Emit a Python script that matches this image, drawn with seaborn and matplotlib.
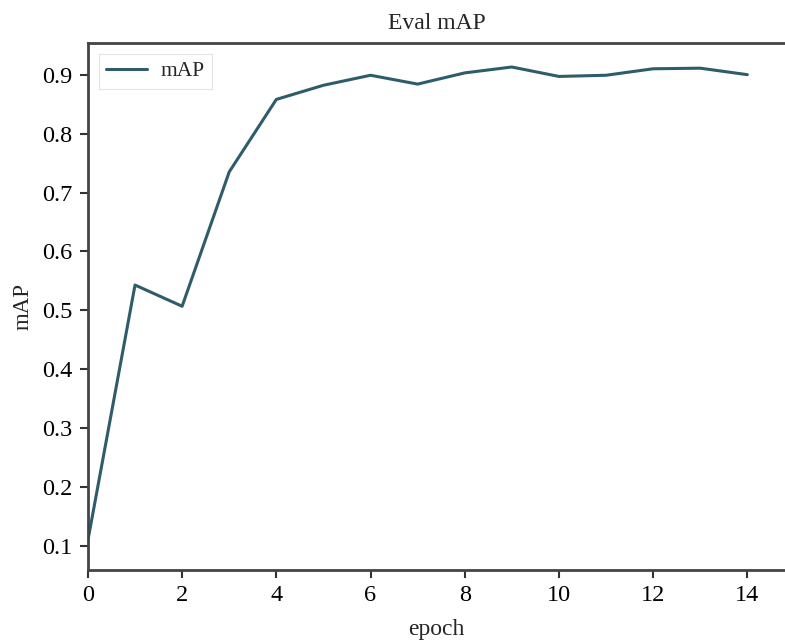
import matplotlib
matplotlib.use("Agg")
import matplotlib.pyplot as plt
import seaborn as sns
import pandas as pd

epochs = list(range(15))
map_values = [0.11, 0.543, 0.507, 0.735, 0.858, 0.882, 0.899, 0.884, 0.903, 0.913,
              0.897, 0.899, 0.910, 0.911, 0.900]
x_ticks = [0, 2, 4, 6, 8, 10, 12, 14]
y_ticks = [0.1, 0.2, 0.3, 0.4, 0.5, 0.6, 0.7, 0.8, 0.9]

sns.set_style("ticks")
plt.rcParams['font.family'] = ['Liberation Serif', 'DejaVu Serif']

df = pd.DataFrame({"epoch": epochs, "mAP": map_values})

fig = plt.figure(figsize=(7.85, 6.43), dpi=100)
ax = fig.add_axes([0.112, 0.1135, 0.888, 0.8195])

sns.lineplot(data=df, x="epoch", y="mAP", ax=ax, color="#2f5c6b", linewidth=2.2, label="mAP")

ax.set_xlim(0, 14.8)
ax.set_ylim(0.0594, 0.9536)
ax.set_xticks(x_ticks)
ax.set_yticks(y_ticks)
ax.set_yticklabels([f"{v:.1f}" for v in y_ticks])
ax.tick_params(labelsize=17.5, length=6, width=1.5, pad=5, colors="#333333", labelcolor="black")
for s in ["left", "bottom", "top"]:
    ax.spines[s].set_color("#444444")
    ax.spines[s].set_linewidth(2)
ax.spines["right"].set_visible(False)

ax.set_title("Eval mAP", fontsize=17, pad=10)
ax.set_xlabel("epoch", fontsize=17, labelpad=9)
ax.set_ylabel("mAP", fontsize=16.5, labelpad=6)

leg = ax.legend(loc="upper left", fontsize=15.5, frameon=True, fancybox=False,
                handlelength=1.9, handletextpad=0.6, borderpad=0.35)
leg.get_frame().set_edgecolor("#dddddd")
leg.get_frame().set_linewidth(0.8)

fig.savefig("out.png", dpi=100)
